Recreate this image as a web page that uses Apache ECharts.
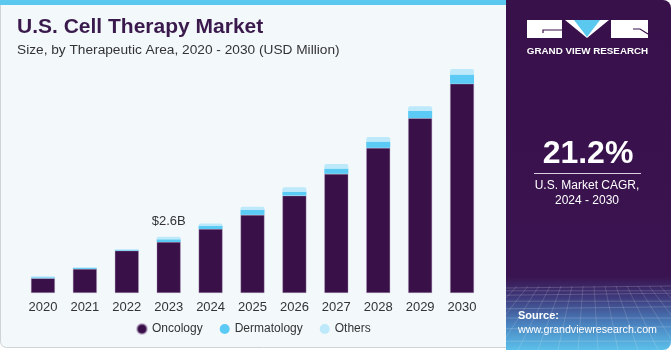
<!DOCTYPE html>
<html>
<head>
<meta charset="utf-8">
<script src="https://cdn.jsdelivr.net/npm/echarts@6/dist/echarts.min.js"></script>
<style>
  html, body { margin: 0; padding: 0; background: #ffffff; }
  #chart { width: 671px; height: 350px; }
</style>
</head>
<body>
<div id="chart"></div>
<script>
// 数据 (USD Million)
const years = ['2020', '2021', '2022', '2023', '2024', '2025', '2026', '2027', '2028', '2029', '2030']
const oncology = [680, 1110, 1955, 2355, 2955, 3605, 4495, 5500, 6700, 8070, 9655]
const dermatology = [45, 40, 35, 125, 140, 230, 185, 245, 290, 335, 430]
const others = [45, 40, 30, 120, 115, 150, 205, 205, 205, 215, 250]
const labelIndex = 3  // 2023 上方的标注
const labelText = '$2.6B'

const font = '"Liberation Sans", Arial, sans-serif'
const chart = echarts.init(document.getElementById('chart'))

// 右侧面板底部的网格线
const gridLines = []
for (let i = 0; i < 9; i++) {
  const y = 288 + i * i * 0.8 + i * 2
  gridLines.push({
    type: 'line',
    shape: { x1: 506, y1: y, x2: 671, y2: y - 2 + (i % 2) * 2 },
    style: { stroke: 'rgba(255,255,255,0.18)', lineWidth: 1 },
    silent: true
  })
}
for (let i = 0; i < 16; i++) {
  const xTop = 506 + i * 11
  const xBot = 506 + (i - 7.5) * 20 + 82
  gridLines.push({
    type: 'line',
    shape: { x1: xTop, y1: 286, x2: xBot, y2: 350 },
    style: { stroke: 'rgba(255,255,255,0.15)', lineWidth: 1 },
    silent: true
  })
}

const option = {
  backgroundColor: '#ffffff',
  animation: false,
  textStyle: { fontFamily: font },
  title: {
    text: 'U.S. Cell Therapy Market',
    subtext: 'Size, by Therapeutic Area, 2020 - 2030 (USD Million)',
    left: 12,
    top: 12,
    itemGap: 5,
    textStyle: { fontFamily: font, fontSize: 21, fontWeight: 'bold', color: '#3a1a4c' },
    subtextStyle: { fontFamily: font, fontSize: 13.7, color: '#333333' }
  },
  legend: {
    left: 131,
    top: 318,
    icon: 'circle',
    itemWidth: 10,
    itemHeight: 10,
    itemGap: 17,
    textStyle: { fontFamily: font, fontSize: 12, color: '#333333' },
    data: ['Oncology', 'Dermatology', 'Others']
  },
  grid: { left: 22, right: 188, top: 33, bottom: 57 },
  xAxis: {
    type: 'category',
    data: years,
    axisLine: { show: false },
    axisTick: { show: false },
    axisLabel: { fontFamily: font, fontSize: 13, color: '#333333', margin: 8 }
  },
  yAxis: {
    type: 'value',
    min: 0,
    max: 12000,
    show: false,
    splitLine: { show: false }
  },
  graphic: [
    // 左侧卡片
    {
      type: 'rect', z: -10,
      shape: { x: 0.5, y: 0.5, width: 520, height: 347, r: [0, 0, 0, 6] },
      style: { fill: '#f3f8fb', stroke: '#cfd3d6', lineWidth: 1 }
    },
    {
      type: 'rect', z: -9,
      shape: { x: 0, y: 0, width: 510, height: 5 },
      style: { fill: '#5bc8f0' }
    },
    // 右侧面板
    {
      type: 'rect', z: -8,
      shape: { x: 506, y: 0, width: 165, height: 350, r: [0, 8, 8, 0] },
      style: {
        fill: new echarts.graphic.LinearGradient(0, 0, 0, 1, [
          { offset: 0, color: '#38104a' },
          { offset: 0.79, color: '#3a1450' },
          { offset: 0.85, color: '#3e3a7c' },
          { offset: 0.93, color: '#4a86c2' },
          { offset: 1, color: '#5cc0ea' }
        ])
      }
    },
    ...gridLines,
    // logo: G
    { type: 'rect', shape: { x: 527, y: 20, width: 35, height: 18 }, style: { fill: '#ffffff' } },
    { type: 'polyline', shape: { points: [[543, 33], [543, 30], [562, 30]] }, style: { stroke: '#38104a', lineWidth: 1.2, fill: null } },
    // logo: V
    { type: 'polygon', shape: { points: [[565, 20], [609, 20], [587, 38]] }, style: { fill: '#ffffff' } },
    { type: 'polygon', shape: { points: [[574, 20], [600, 20], [587, 37]] }, style: { fill: '#5bc8f0' } },
    // logo: R
    { type: 'rect', shape: { x: 611, y: 20, width: 37, height: 18 }, style: { fill: '#ffffff' } },
    { type: 'polyline', shape: { points: [[633, 29], [640, 29], [648, 34]] }, style: { stroke: '#38104a', lineWidth: 1.2, fill: null } },
    {
      type: 'text',
      style: { text: 'GRAND VIEW RESEARCH', x: 587.5, y: 51, align: 'center', verticalAlign: 'middle', fill: '#ffffff', font: 'bold 9.8px ' + font }
    },
    {
      type: 'text',
      style: { text: '21.2%', x: 588, y: 154, align: 'center', verticalAlign: 'middle', fill: '#ffffff', font: 'bold 32px ' + font }
    },
    {
      type: 'line',
      shape: { x1: 534, y1: 173.5, x2: 641, y2: 173.5 },
      style: { stroke: '#d8cfe0', lineWidth: 1 }
    },
    {
      type: 'text',
      style: { text: 'U.S. Market CAGR,', x: 587, y: 186, align: 'center', verticalAlign: 'middle', fill: '#ffffff', font: '12px ' + font }
    },
    {
      type: 'text',
      style: { text: '2024 - 2030', x: 587, y: 201, align: 'center', verticalAlign: 'middle', fill: '#ffffff', font: '12px ' + font }
    },
    {
      type: 'text',
      style: { text: 'Source:', x: 518, y: 316, verticalAlign: 'middle', fill: '#ffffff', font: 'bold 11px ' + font }
    },
    {
      type: 'text',
      style: { text: 'www.grandviewresearch.com', x: 518, y: 330, verticalAlign: 'middle', fill: '#ffffff', font: '10.7px ' + font }
    }
  ],
  series: [
    {
      name: 'Oncology',
      type: 'bar',
      stack: 'total',
      barWidth: 24,
      itemStyle: { color: '#3a1048', borderColor: 'rgba(170,150,185,0.6)', borderWidth: 0.6 },
      data: oncology
    },
    {
      name: 'Dermatology',
      type: 'bar',
      stack: 'total',
      barWidth: 24,
      itemStyle: { color: '#5bcbf5' },
      data: dermatology
    },
    {
      name: 'Others',
      type: 'bar',
      stack: 'total',
      barWidth: 24,
      itemStyle: { color: '#bde9fa', borderRadius: [2, 2, 0, 0] },
      data: others.map((v, i) => i === labelIndex ? {
        value: v,
        label: {
          show: true,
          position: 'top',
          distance: 9,
          formatter: labelText,
          fontFamily: font,
          fontSize: 13,
          color: '#333333'
        }
      } : v)
    }
  ]
}
chart.setOption(option)
</script>
</body>
</html>
